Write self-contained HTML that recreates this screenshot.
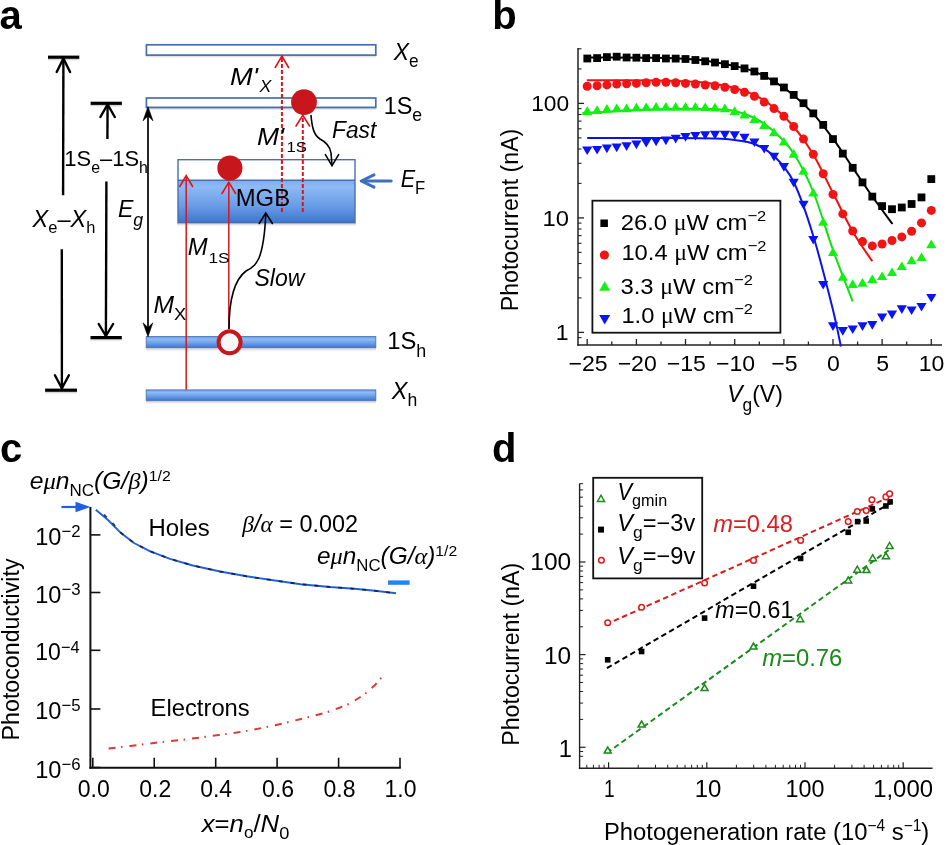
<!DOCTYPE html>
<html><head><meta charset="utf-8"><style>
html,body{margin:0;padding:0;background:#fff;overflow:hidden;}
svg{display:block;filter:blur(0.4px);}
text{font-family:"Liberation Sans",sans-serif;}
</style></head><body>
<svg width="946" height="845" viewBox="0 0 946 845">
<defs>
<linearGradient id="gbar" x1="0" y1="0" x2="0" y2="1">
<stop offset="0" stop-color="#6f9fe6"/><stop offset="0.25" stop-color="#8dbbf5"/><stop offset="0.6" stop-color="#6a9ee8"/><stop offset="1" stop-color="#3f77cf"/></linearGradient>
<linearGradient id="gbig" x1="0" y1="0" x2="0" y2="1">
<stop offset="0" stop-color="#7eaaf0"/><stop offset="0.15" stop-color="#8fbaf4"/><stop offset="0.6" stop-color="#6a9de6"/><stop offset="1" stop-color="#3d76d0"/></linearGradient>
<linearGradient id="shd" x1="0" y1="0" x2="0" y2="1">
<stop offset="0" stop-color="#a0a0a0" stop-opacity="0.7"/><stop offset="1" stop-color="#ffffff" stop-opacity="0"/></linearGradient>
</defs>
<rect width="946" height="845" fill="#fff"/>
<text x="-0.50" y="28.6" font-size="40" font-weight="bold">a</text>
<rect x="146" y="55.5" width="230" height="3" fill="url(#shd)"/>
<rect x="146.4" y="44.8" width="229.4" height="10.3" fill="#fff" stroke="#4670ac" stroke-width="1.7"/>
<rect x="146" y="108.2" width="230" height="3" fill="url(#shd)"/>
<rect x="146.4" y="98" width="229.4" height="9.4" fill="#fff" stroke="#4670ac" stroke-width="1.7"/>
<rect x="177" y="223.2" width="179" height="4" fill="url(#shd)"/>
<rect x="178" y="180" width="177" height="42.6" fill="url(#gbig)"/>
<rect x="178" y="159.7" width="177" height="62.9" fill="none" stroke="#4670ac" stroke-width="1.4"/>
<line x1="178" y1="180.3" x2="355" y2="180.3" stroke="#4670ac" stroke-width="1.4"/>
<rect x="146" y="348.2" width="230" height="4" fill="url(#shd)"/>
<rect x="146.2" y="336.6" width="229.6" height="11" fill="url(#gbar)" stroke="#4a70b4" stroke-width="0.9"/>
<rect x="146" y="401" width="230" height="4" fill="url(#shd)"/>
<rect x="146.2" y="389.9" width="229.6" height="10.5" fill="url(#gbar)" stroke="#4a70b4" stroke-width="0.9"/>
<rect x="48" y="58.800000000000004" width="31.299999999999997" height="3" fill="url(#shd)"/><line x1="48" y1="57.2" x2="79.3" y2="57.2" stroke="#000" stroke-width="3.2"/>
<line x1="63.4" y1="58" x2="63.1" y2="195.3" stroke="#000" stroke-width="2.4"/>
<polyline points="56.699999999999996,72.0 63.4,58.5 70.1,72.0" fill="none" stroke="#000" stroke-width="2.4" stroke-linecap="round"/>
<line x1="61.8" y1="249.3" x2="61.9" y2="389" stroke="#000" stroke-width="2.4"/>
<polyline points="54.9,375.2 61.9,388.2 68.9,375.2" fill="none" stroke="#000" stroke-width="2.4" stroke-linecap="round"/>
<rect x="45.1" y="391.8" width="31.9" height="3" fill="url(#shd)"/><line x1="45.1" y1="390.2" x2="77" y2="390.2" stroke="#000" stroke-width="3.2"/>
<rect x="90.6" y="104.89999999999999" width="31.30000000000001" height="3" fill="url(#shd)"/><line x1="90.6" y1="103.3" x2="121.9" y2="103.3" stroke="#000" stroke-width="3.2"/>
<line x1="107.6" y1="104" x2="107.4" y2="139" stroke="#000" stroke-width="2.4"/>
<polyline points="100.39999999999999,117.0 107.6,104.5 114.8,117.0" fill="none" stroke="#000" stroke-width="2.4" stroke-linecap="round"/>
<line x1="106.4" y1="181.5" x2="105.9" y2="336.5" stroke="#000" stroke-width="2.4"/>
<polyline points="98.7,324 105.9,336 113.10000000000001,324" fill="none" stroke="#000" stroke-width="2.4" stroke-linecap="round"/>
<rect x="90.5" y="339.20000000000005" width="31.299999999999997" height="3" fill="url(#shd)"/><line x1="90.5" y1="337.6" x2="121.8" y2="337.6" stroke="#000" stroke-width="3.2"/>
<line x1="148" y1="110" x2="148" y2="333" stroke="#000" stroke-width="1.7"/>
<polygon points="148,106.8 143,120.8 148,116 153,120.8" fill="#000" stroke="#000" stroke-width="0.6" stroke-linejoin="round"/>
<polygon points="148,336.7 143,322.8 148,327.6 152.8,322.8" fill="#000" stroke="#000" stroke-width="0.6" stroke-linejoin="round"/>
<line x1="186.2" y1="389.8" x2="186.2" y2="176" stroke="#d9161e" stroke-width="1.5"/>
<polyline points="179.79999999999998,186.5 186.2,175.5 192.6,186.5" fill="none" stroke="#d9161e" stroke-width="1.6" stroke-linecap="round"/>
<line x1="228.8" y1="329" x2="228.8" y2="183" stroke="#d9161e" stroke-width="1.5"/>
<polyline points="222.0,193.5 228.8,182.2 235.60000000000002,193.5" fill="none" stroke="#d9161e" stroke-width="1.6" stroke-linecap="round"/>
<line x1="281.9" y1="212" x2="281.9" y2="57" stroke="#d9161e" stroke-width="2" stroke-dasharray="4 2"/>
<polyline points="275.2,67.5 281.9,56 288.59999999999997,67.5" fill="none" stroke="#d9161e" stroke-width="1.6" stroke-linecap="round"/>
<line x1="302.8" y1="212" x2="302.8" y2="116" stroke="#d9161e" stroke-width="2" stroke-dasharray="4 2"/>
<polyline points="296.0,126.0 302.8,115.2 309.6,126.0" fill="none" stroke="#d9161e" stroke-width="1.6" stroke-linecap="round"/>
<circle cx="304" cy="102.1" r="12.9" fill="#c8161d"/>
<circle cx="229.9" cy="168" r="12.6" fill="#c8161d"/>
<circle cx="229.6" cy="342.3" r="11" fill="#f8f8f8" stroke="#c8161d" stroke-width="4"/>
<path d="M311,115 C312,128 314,135 320,139 C326,142 330,146 331,153 L332,165" fill="none" stroke="#000" stroke-width="1.6"/>
<polyline points="325.4,154.70000000000002 332,165.8 338.6,154.70000000000002" fill="none" stroke="#000" stroke-width="1.6" stroke-linecap="round"/>
<path d="M229,329 C229,300 234,280 246,271 C254,267 256,264 259,258 C263,248 265,232 265.8,214" fill="none" stroke="#000" stroke-width="1.6"/>
<polyline points="259.2,223.5 265.8,213 272.40000000000003,223.5" fill="none" stroke="#000" stroke-width="1.6" stroke-linecap="round"/>
<line x1="391.2" y1="181.1" x2="363" y2="181.1" stroke="#3f6fbf" stroke-width="3" stroke-linecap="round"/>
<polyline points="374,174.8 361.2,181 374,187.2" fill="none" stroke="#3f6fbf" stroke-width="3" stroke-linejoin="round" stroke-linecap="round"/>
<text transform="matrix(0.9788,0,0,1,235.74,0)" x="0" y="206.1" font-size="24.4">MGB</text>
<text transform="matrix(0.9383,0,0,1,332.06,0)" x="0" y="138.4" font-size="24.2" font-style="italic">Fast</text>
<text transform="matrix(0.9615,0,0,1,254.44,0)" x="0" y="285.8" font-size="24" font-style="italic">Slow</text>
<text transform="matrix(0.9560,0,0,1,393.70,0)" x="0" y="59.8" font-size="24"><tspan font-style="italic">X</tspan><tspan font-size="18" dy="7.5">e</tspan></text>
<text transform="matrix(0.9784,0,0,1,383.64,0)" x="0" y="113.6" font-size="24">1S<tspan font-size="18" dy="7.7">e</tspan></text>
<text transform="matrix(0.9000,0,0,1,400.70,0)" x="0" y="186.7" font-size="24"><tspan font-style="italic">E</tspan><tspan font-size="18.5" dy="7.5">F</tspan></text>
<text transform="matrix(0.9917,0,0,1,387.22,0)" x="0" y="348.8" font-size="24">1S<tspan font-size="18" dy="8">h</tspan></text>
<text transform="matrix(0.9800,0,0,1,391.80,0)" x="0" y="398.8" font-size="24"><tspan font-style="italic">X</tspan><tspan font-size="18" dy="7.5">h</tspan></text>
<text transform="matrix(0.9938,0,0,1,64.31,0)" x="0" y="165.6" font-size="22.1">1S<tspan font-size="16" dy="7.6">e</tspan><tspan dy="-7.6">–1S</tspan><tspan font-size="16" dy="7.6">h</tspan></text>
<text transform="matrix(0.9703,0,0,1,32.60,0)" x="0" y="226.6" font-size="24.3"><tspan font-style="italic">X</tspan><tspan font-size="17" dy="6.6">e</tspan><tspan dy="-6.6">–</tspan><tspan font-style="italic">X</tspan><tspan font-size="17" dy="6.6">h</tspan></text>
<text transform="matrix(0.9640,0,0,1,117.94,0)" x="0" y="217.1" font-size="24" font-style="italic">E<tspan font-size="18.5" dy="8.5">g</tspan></text>
<text transform="matrix(1.1375,0,0,1,230.06,0)" x="0" y="84.9" font-size="24" font-style="italic">M'</text>
<text transform="matrix(1.0417,0,0,1,259.60,0)" x="0" y="92.5" font-size="17" font-style="italic">X</text>
<text transform="matrix(1.1000,0,0,1,257.00,0)" x="0" y="144.6" font-size="24" font-style="italic">M'</text>
<text transform="matrix(1.0765,0,0,1,286.42,0)" x="0" y="152.3" font-size="15.5">1S</text>
<text transform="matrix(0.9947,0,0,1,187.81,0)" x="0" y="255.5" font-size="24" font-style="italic">M</text>
<text transform="matrix(1.1118,0,0,1,208.39,0)" x="0" y="263.1" font-size="15.5">1S</text>
<text transform="matrix(1.0263,0,0,1,153.47,0)" x="0" y="312.8" font-size="24" font-style="italic">M</text>
<text transform="matrix(1.1111,0,0,1,174.09,0)" x="0" y="320.5" font-size="16.5">X</text>
<text x="492.30" y="28.6" font-size="40" font-weight="bold">b</text>
<line x1="578.0" y1="48" x2="578.0" y2="345.7" stroke="#222" stroke-width="1.5"/>
<line x1="577.3" y1="345.0" x2="942" y2="345.0" stroke="#222" stroke-width="1.5"/>
<line x1="578.0" y1="332.4" x2="584.0" y2="332.4" stroke="#222" stroke-width="1.3"/>
<line x1="578.0" y1="297.9" x2="581.5" y2="297.9" stroke="#222" stroke-width="1.1"/>
<line x1="578.0" y1="277.8" x2="581.5" y2="277.8" stroke="#222" stroke-width="1.1"/>
<line x1="578.0" y1="263.5" x2="581.5" y2="263.5" stroke="#222" stroke-width="1.1"/>
<line x1="578.0" y1="252.4" x2="581.5" y2="252.4" stroke="#222" stroke-width="1.1"/>
<line x1="578.0" y1="243.3" x2="581.5" y2="243.3" stroke="#222" stroke-width="1.1"/>
<line x1="578.0" y1="235.6" x2="581.5" y2="235.6" stroke="#222" stroke-width="1.1"/>
<line x1="578.0" y1="229.0" x2="581.5" y2="229.0" stroke="#222" stroke-width="1.1"/>
<line x1="578.0" y1="223.1" x2="581.5" y2="223.1" stroke="#222" stroke-width="1.1"/>
<line x1="578.0" y1="217.9" x2="584.0" y2="217.9" stroke="#222" stroke-width="1.3"/>
<line x1="578.0" y1="183.4" x2="581.5" y2="183.4" stroke="#222" stroke-width="1.1"/>
<line x1="578.0" y1="163.3" x2="581.5" y2="163.3" stroke="#222" stroke-width="1.1"/>
<line x1="578.0" y1="149.0" x2="581.5" y2="149.0" stroke="#222" stroke-width="1.1"/>
<line x1="578.0" y1="137.9" x2="581.5" y2="137.9" stroke="#222" stroke-width="1.1"/>
<line x1="578.0" y1="128.8" x2="581.5" y2="128.8" stroke="#222" stroke-width="1.1"/>
<line x1="578.0" y1="121.1" x2="581.5" y2="121.1" stroke="#222" stroke-width="1.1"/>
<line x1="578.0" y1="114.5" x2="581.5" y2="114.5" stroke="#222" stroke-width="1.1"/>
<line x1="578.0" y1="108.6" x2="581.5" y2="108.6" stroke="#222" stroke-width="1.1"/>
<line x1="578.0" y1="103.4" x2="584.0" y2="103.4" stroke="#222" stroke-width="1.3"/>
<line x1="578.0" y1="68.9" x2="581.5" y2="68.9" stroke="#222" stroke-width="1.1"/>
<line x1="578.0" y1="48.8" x2="581.5" y2="48.8" stroke="#222" stroke-width="1.1"/>
<line x1="578.0" y1="337.6" x2="581.5" y2="337.6" stroke="#222" stroke-width="1.1"/>
<line x1="587.2" y1="345.0" x2="587.2" y2="339.0" stroke="#222" stroke-width="1.3"/>
<line x1="611.8" y1="345.0" x2="611.8" y2="341.5" stroke="#222" stroke-width="1.3"/>
<line x1="636.4" y1="345.0" x2="636.4" y2="339.0" stroke="#222" stroke-width="1.3"/>
<line x1="661.0" y1="345.0" x2="661.0" y2="341.5" stroke="#222" stroke-width="1.3"/>
<line x1="685.5" y1="345.0" x2="685.5" y2="339.0" stroke="#222" stroke-width="1.3"/>
<line x1="710.1" y1="345.0" x2="710.1" y2="341.5" stroke="#222" stroke-width="1.3"/>
<line x1="734.7" y1="345.0" x2="734.7" y2="339.0" stroke="#222" stroke-width="1.3"/>
<line x1="759.3" y1="345.0" x2="759.3" y2="341.5" stroke="#222" stroke-width="1.3"/>
<line x1="783.9" y1="345.0" x2="783.9" y2="339.0" stroke="#222" stroke-width="1.3"/>
<line x1="808.4" y1="345.0" x2="808.4" y2="341.5" stroke="#222" stroke-width="1.3"/>
<line x1="833.0" y1="345.0" x2="833.0" y2="339.0" stroke="#222" stroke-width="1.3"/>
<line x1="857.6" y1="345.0" x2="857.6" y2="341.5" stroke="#222" stroke-width="1.3"/>
<line x1="882.1" y1="345.0" x2="882.1" y2="339.0" stroke="#222" stroke-width="1.3"/>
<line x1="906.7" y1="345.0" x2="906.7" y2="341.5" stroke="#222" stroke-width="1.3"/>
<line x1="931.3" y1="345.0" x2="931.3" y2="339.0" stroke="#222" stroke-width="1.3"/>
<text transform="matrix(1.0300,0,0,1,568.48,0)" x="0" y="371.1" font-size="22.4">−25</text>
<text transform="matrix(1.0300,0,0,1,617.63,0)" x="0" y="371.1" font-size="22.4">−20</text>
<text transform="matrix(1.0300,0,0,1,666.78,0)" x="0" y="371.1" font-size="22.4">−15</text>
<text transform="matrix(1.0300,0,0,1,715.93,0)" x="0" y="371.1" font-size="22.4">−10</text>
<text transform="matrix(1.0300,0,0,1,771.26,0)" x="0" y="371.1" font-size="22.4">−5</text>
<text transform="matrix(1.0300,0,0,1,827.10,0)" x="0" y="371.1" font-size="22.4">0</text>
<text transform="matrix(1.0300,0,0,1,876.25,0)" x="0" y="371.1" font-size="22.4">5</text>
<text transform="matrix(1.0300,0,0,1,918.71,0)" x="0" y="371.1" font-size="22.4">10</text>
<text transform="matrix(1.0171,0,0,1,531.17,0)" x="0" y="111.2" font-size="22.4">100</text>
<text transform="matrix(1.0636,0,0,1,542.57,0)" x="0" y="225.9" font-size="22.4">10</text>
<text transform="matrix(1.0300,0,0,1,555.74,0)" x="0" y="340.2" font-size="22.4">1</text>
<text transform="translate(517.6,311.2) rotate(-90)" font-size="23" textLength="182.5" lengthAdjust="spacingAndGlyphs">Photocurrent (nA)</text>
<text transform="matrix(0.9600,0,0,1,727.18,0)" x="0" y="402.3" font-size="24"><tspan font-style="italic">V</tspan><tspan font-size="18" dy="8.5">g</tspan><tspan dy="-8.5">(V)</tspan></text>
<path d="M587.2,57.6 C598.7,57.6 638.0,57.5 656.1,57.8 C674.1,58.1 685.5,58.9 695.4,59.6 C705.2,60.3 708.5,61.1 715.0,62.2 C721.6,63.3 728.1,64.4 734.7,66.0 C741.3,67.6 747.8,69.0 754.4,71.6 C760.9,74.2 767.5,77.5 774.0,81.4 C780.6,85.3 787.1,89.8 793.7,95.2 C800.2,100.6 806.8,106.6 813.3,113.8 C819.9,121.0 826.4,129.6 833.0,138.6 C839.6,147.6 846.1,157.9 852.7,167.6 C859.2,177.2 865.7,187.1 872.3,196.5 C879.0,205.9 889.1,219.4 892.5,224.0" fill="none" stroke="#000" stroke-width="2"/>
<path d="M586.8,80.3 C598.3,80.3 638.0,80.2 656.1,80.4 C674.2,80.7 685.5,81.2 695.4,81.8 C705.2,82.4 708.5,83.0 715.0,84.0 C721.6,85.0 728.1,86.2 734.7,88.0 C741.3,89.8 747.8,91.8 754.4,95.0 C760.9,98.2 767.5,102.2 774.0,107.5 C780.6,112.8 787.1,118.7 793.7,126.5 C800.2,134.3 806.8,143.4 813.3,154.5 C819.9,165.6 826.4,180.2 833.0,193.0 C839.6,205.8 846.1,220.1 852.7,231.5 C859.2,242.9 869.0,256.3 872.3,261.3" fill="none" stroke="#f01010" stroke-width="2"/>
<path d="M582.3,113.3 C591.3,112.8 619.2,110.8 636.4,110.0 C653.6,109.2 672.4,108.9 685.5,108.8 C698.7,108.7 706.8,108.8 715.0,109.2 C723.2,109.6 728.1,109.5 734.7,111.0 C741.3,112.5 747.8,114.6 754.4,118.0 C760.9,121.4 767.5,125.6 774.0,131.5 C780.6,137.4 787.1,143.4 793.7,153.5 C800.2,163.6 806.8,175.9 813.3,192.0 C819.9,208.1 826.4,231.8 833.0,250.0 C839.6,268.2 849.4,292.9 852.7,301.5" fill="none" stroke="#10e010" stroke-width="2"/>
<path d="M587.2,138.1 C602.0,138.1 654.4,138.0 675.7,138.1 C697.0,138.2 705.2,138.3 715.0,138.6 C724.9,138.9 728.1,139.1 734.7,140.0 C741.3,140.9 747.8,141.3 754.4,144.0 C760.9,146.7 767.5,149.7 774.0,156.0 C780.6,162.3 787.1,168.7 793.7,182.0 C800.2,195.3 806.8,214.7 813.3,236.0 C819.9,257.3 828.4,291.6 833.0,310.0 C837.6,328.4 839.6,340.4 840.9,346.5" fill="none" stroke="#0a14e6" stroke-width="2"/>
<rect x="583.4" y="54.6" width="7.8" height="7.8" fill="#000"/>
<rect x="593.2" y="54.2" width="7.8" height="7.8" fill="#000"/>
<rect x="603.0" y="53.2" width="7.8" height="7.8" fill="#000"/>
<rect x="612.8" y="52.8" width="7.8" height="7.8" fill="#000"/>
<rect x="622.7" y="53.6" width="7.8" height="7.8" fill="#000"/>
<rect x="632.5" y="53.8" width="7.8" height="7.8" fill="#000"/>
<rect x="642.3" y="54.2" width="7.8" height="7.8" fill="#000"/>
<rect x="652.2" y="54.2" width="7.8" height="7.8" fill="#000"/>
<rect x="662.0" y="54.6" width="7.8" height="7.8" fill="#000"/>
<rect x="671.8" y="54.7" width="7.8" height="7.8" fill="#000"/>
<rect x="681.6" y="55.1" width="7.8" height="7.8" fill="#000"/>
<rect x="691.5" y="56.1" width="7.8" height="7.8" fill="#000"/>
<rect x="701.3" y="57.4" width="7.8" height="7.8" fill="#000"/>
<rect x="711.1" y="58.6" width="7.8" height="7.8" fill="#000"/>
<rect x="721.0" y="60.3" width="7.8" height="7.8" fill="#000"/>
<rect x="730.8" y="62.2" width="7.8" height="7.8" fill="#000"/>
<rect x="740.6" y="64.5" width="7.8" height="7.8" fill="#000"/>
<rect x="750.5" y="67.6" width="7.8" height="7.8" fill="#000"/>
<rect x="760.3" y="72.0" width="7.8" height="7.8" fill="#000"/>
<rect x="770.1" y="77.5" width="7.8" height="7.8" fill="#000"/>
<rect x="780.0" y="83.6" width="7.8" height="7.8" fill="#000"/>
<rect x="789.8" y="91.0" width="7.8" height="7.8" fill="#000"/>
<rect x="799.6" y="99.3" width="7.8" height="7.8" fill="#000"/>
<rect x="809.4" y="109.5" width="7.8" height="7.8" fill="#000"/>
<rect x="819.3" y="121.0" width="7.8" height="7.8" fill="#000"/>
<rect x="829.1" y="135.2" width="7.8" height="7.8" fill="#000"/>
<rect x="838.9" y="149.7" width="7.8" height="7.8" fill="#000"/>
<rect x="848.8" y="163.9" width="7.8" height="7.8" fill="#000"/>
<rect x="858.6" y="178.5" width="7.8" height="7.8" fill="#000"/>
<rect x="868.4" y="192.7" width="7.8" height="7.8" fill="#000"/>
<rect x="878.2" y="202.2" width="7.8" height="7.8" fill="#000"/>
<rect x="888.1" y="205.3" width="7.8" height="7.8" fill="#000"/>
<rect x="897.9" y="203.6" width="7.8" height="7.8" fill="#000"/>
<rect x="907.7" y="200.1" width="7.8" height="7.8" fill="#000"/>
<rect x="917.6" y="193.5" width="7.8" height="7.8" fill="#000"/>
<rect x="927.4" y="175.2" width="7.8" height="7.8" fill="#000"/>
<circle cx="587.2" cy="86.2" r="4.5" fill="#f01414"/>
<circle cx="597.1" cy="85.7" r="4.5" fill="#f01414"/>
<circle cx="606.9" cy="84.9" r="4.5" fill="#f01414"/>
<circle cx="616.7" cy="84.1" r="4.5" fill="#f01414"/>
<circle cx="626.6" cy="83.8" r="4.5" fill="#f01414"/>
<circle cx="636.4" cy="83.4" r="4.5" fill="#f01414"/>
<circle cx="646.2" cy="82.8" r="4.5" fill="#f01414"/>
<circle cx="656.1" cy="82.2" r="4.5" fill="#f01414"/>
<circle cx="665.9" cy="82.2" r="4.5" fill="#f01414"/>
<circle cx="675.7" cy="82.8" r="4.5" fill="#f01414"/>
<circle cx="685.5" cy="83.4" r="4.5" fill="#f01414"/>
<circle cx="695.4" cy="84.1" r="4.5" fill="#f01414"/>
<circle cx="705.2" cy="85.1" r="4.5" fill="#f01414"/>
<circle cx="715.0" cy="85.7" r="4.5" fill="#f01414"/>
<circle cx="724.9" cy="87.2" r="4.5" fill="#f01414"/>
<circle cx="734.7" cy="89.5" r="4.5" fill="#f01414"/>
<circle cx="744.5" cy="92.3" r="4.5" fill="#f01414"/>
<circle cx="754.4" cy="96.2" r="4.5" fill="#f01414"/>
<circle cx="764.2" cy="102.1" r="4.5" fill="#f01414"/>
<circle cx="774.0" cy="108.6" r="4.5" fill="#f01414"/>
<circle cx="783.9" cy="116.2" r="4.5" fill="#f01414"/>
<circle cx="793.7" cy="126.5" r="4.5" fill="#f01414"/>
<circle cx="803.5" cy="139.1" r="4.5" fill="#f01414"/>
<circle cx="813.3" cy="154.3" r="4.5" fill="#f01414"/>
<circle cx="823.2" cy="173.8" r="4.5" fill="#f01414"/>
<circle cx="833.0" cy="194.4" r="4.5" fill="#f01414"/>
<circle cx="842.8" cy="213.9" r="4.5" fill="#f01414"/>
<circle cx="852.7" cy="231.0" r="4.5" fill="#f01414"/>
<circle cx="862.5" cy="241.6" r="4.5" fill="#f01414"/>
<circle cx="872.3" cy="245.9" r="4.5" fill="#f01414"/>
<circle cx="882.1" cy="244.0" r="4.5" fill="#f01414"/>
<circle cx="892.0" cy="240.5" r="4.5" fill="#f01414"/>
<circle cx="901.8" cy="236.9" r="4.5" fill="#f01414"/>
<circle cx="911.6" cy="231.2" r="4.5" fill="#f01414"/>
<circle cx="921.5" cy="222.9" r="4.5" fill="#f01414"/>
<circle cx="931.3" cy="210.4" r="4.5" fill="#f01414"/>
<polygon points="582.1,115.0 592.4,115.0 587.2,106.3" fill="#14f014"/>
<polygon points="592.0,113.9 602.2,113.9 597.1,105.2" fill="#14f014"/>
<polygon points="601.8,112.7 612.0,112.7 606.9,104.0" fill="#14f014"/>
<polygon points="611.6,112.2 621.8,112.2 616.7,103.5" fill="#14f014"/>
<polygon points="621.5,112.2 631.7,112.2 626.6,103.5" fill="#14f014"/>
<polygon points="631.3,111.5 641.5,111.5 636.4,102.8" fill="#14f014"/>
<polygon points="641.1,111.1 651.3,111.1 646.2,102.4" fill="#14f014"/>
<polygon points="651.0,110.8 661.2,110.8 656.1,102.1" fill="#14f014"/>
<polygon points="660.8,110.8 671.0,110.8 665.9,102.1" fill="#14f014"/>
<polygon points="670.6,110.8 680.8,110.8 675.7,102.1" fill="#14f014"/>
<polygon points="680.4,110.8 690.6,110.8 685.5,102.1" fill="#14f014"/>
<polygon points="690.3,110.8 700.5,110.8 695.4,102.1" fill="#14f014"/>
<polygon points="700.1,111.1 710.3,111.1 705.2,102.4" fill="#14f014"/>
<polygon points="709.9,111.5 720.1,111.5 715.0,102.8" fill="#14f014"/>
<polygon points="719.8,112.2 730.0,112.2 724.9,103.5" fill="#14f014"/>
<polygon points="729.6,115.0 739.8,115.0 734.7,106.3" fill="#14f014"/>
<polygon points="739.4,118.6 749.6,118.6 744.5,109.9" fill="#14f014"/>
<polygon points="749.3,123.1 759.5,123.1 754.4,114.4" fill="#14f014"/>
<polygon points="759.1,129.0 769.3,129.0 764.2,120.3" fill="#14f014"/>
<polygon points="768.9,136.3 779.1,136.3 774.0,127.6" fill="#14f014"/>
<polygon points="778.8,145.6 789.0,145.6 783.9,136.9" fill="#14f014"/>
<polygon points="788.6,157.7 798.8,157.7 793.7,149.0" fill="#14f014"/>
<polygon points="798.4,174.8 808.6,174.8 803.5,166.1" fill="#14f014"/>
<polygon points="808.2,196.6 818.4,196.6 813.3,187.9" fill="#14f014"/>
<polygon points="818.1,225.8 828.3,225.8 823.2,217.1" fill="#14f014"/>
<polygon points="827.9,255.9 838.1,255.9 833.0,247.2" fill="#14f014"/>
<polygon points="837.7,280.8 847.9,280.8 842.8,272.1" fill="#14f014"/>
<polygon points="847.6,287.9 857.8,287.9 852.7,279.2" fill="#14f014"/>
<polygon points="857.4,286.7 867.6,286.7 862.5,278.0" fill="#14f014"/>
<polygon points="867.2,283.1 877.4,283.1 872.3,274.4" fill="#14f014"/>
<polygon points="877.0,280.1 887.2,280.1 882.1,271.4" fill="#14f014"/>
<polygon points="886.9,276.1 897.1,276.1 892.0,267.4" fill="#14f014"/>
<polygon points="896.7,270.1 906.9,270.1 901.8,261.4" fill="#14f014"/>
<polygon points="906.5,264.2 916.7,264.2 911.6,255.5" fill="#14f014"/>
<polygon points="916.4,261.1 926.6,261.1 921.5,252.4" fill="#14f014"/>
<polygon points="926.2,248.3 936.4,248.3 931.3,239.6" fill="#14f014"/>
<polygon points="582.1,146.4 592.4,146.4 587.2,155.1" fill="#0a14f0"/>
<polygon points="592.0,145.9 602.2,145.9 597.1,154.6" fill="#0a14f0"/>
<polygon points="601.8,144.5 612.0,144.5 606.9,153.2" fill="#0a14f0"/>
<polygon points="611.6,143.6 621.8,143.6 616.7,152.3" fill="#0a14f0"/>
<polygon points="621.5,142.2 631.7,142.2 626.6,150.9" fill="#0a14f0"/>
<polygon points="631.3,140.6 641.5,140.6 636.4,149.3" fill="#0a14f0"/>
<polygon points="641.1,138.9 651.3,138.9 646.2,147.6" fill="#0a14f0"/>
<polygon points="651.0,137.5 661.2,137.5 656.1,146.2" fill="#0a14f0"/>
<polygon points="660.8,136.6 671.0,136.6 665.9,145.3" fill="#0a14f0"/>
<polygon points="670.6,134.7 680.8,134.7 675.7,143.4" fill="#0a14f0"/>
<polygon points="680.4,133.1 690.6,133.1 685.5,141.8" fill="#0a14f0"/>
<polygon points="690.3,131.9 700.5,131.9 695.4,140.6" fill="#0a14f0"/>
<polygon points="700.1,131.2 710.3,131.2 705.2,139.9" fill="#0a14f0"/>
<polygon points="709.9,130.8 720.1,130.8 715.0,139.5" fill="#0a14f0"/>
<polygon points="719.8,130.8 730.0,130.8 724.9,139.5" fill="#0a14f0"/>
<polygon points="729.6,131.2 739.8,131.2 734.7,139.9" fill="#0a14f0"/>
<polygon points="739.4,133.8 749.6,133.8 744.5,142.5" fill="#0a14f0"/>
<polygon points="749.3,138.4 759.5,138.4 754.4,147.1" fill="#0a14f0"/>
<polygon points="759.1,144.9 769.3,144.9 764.2,153.6" fill="#0a14f0"/>
<polygon points="768.9,152.7 779.1,152.7 774.0,161.4" fill="#0a14f0"/>
<polygon points="778.8,163.1 789.0,163.1 783.9,171.8" fill="#0a14f0"/>
<polygon points="788.6,178.7 798.8,178.7 793.7,187.4" fill="#0a14f0"/>
<polygon points="798.4,200.8 808.6,200.8 803.5,209.5" fill="#0a14f0"/>
<polygon points="808.2,235.9 818.4,235.9 813.3,244.6" fill="#0a14f0"/>
<polygon points="818.1,280.9 828.3,280.9 823.2,289.6" fill="#0a14f0"/>
<polygon points="827.9,322.3 838.1,322.3 833.0,331.0" fill="#0a14f0"/>
<polygon points="837.7,327.1 847.9,327.1 842.8,335.8" fill="#0a14f0"/>
<polygon points="847.6,325.4 857.8,325.4 852.7,334.1" fill="#0a14f0"/>
<polygon points="857.4,322.3 867.6,322.3 862.5,331.0" fill="#0a14f0"/>
<polygon points="867.2,321.1 877.4,321.1 872.3,329.8" fill="#0a14f0"/>
<polygon points="877.0,313.6 887.2,313.6 882.1,322.3" fill="#0a14f0"/>
<polygon points="886.9,310.5 897.1,310.5 892.0,319.2" fill="#0a14f0"/>
<polygon points="896.7,305.3 906.9,305.3 901.8,314.0" fill="#0a14f0"/>
<polygon points="906.5,306.4 916.7,306.4 911.6,315.1" fill="#0a14f0"/>
<polygon points="916.4,302.9 926.6,302.9 921.5,311.6" fill="#0a14f0"/>
<polygon points="926.2,293.9 936.4,293.9 931.3,302.6" fill="#0a14f0"/>
<rect x="592.4" y="200.7" width="188" height="132" fill="#fff" stroke="#111" stroke-width="1.8"/>
<rect x="600.4" y="219.5" width="7.5" height="7.5" fill="#000"/>
<circle cx="604.4" cy="255" r="4.6" fill="#f01414"/>
<polygon points="599.2,290.8 610.2,290.8 604.7,281.2" fill="#14f014"/>
<polygon points="599.2,315.1 610.2,315.1 604.7,324.6" fill="#0a14f0"/>
<text transform="matrix(1.0644,0,0,1,620.74,0)" x="0" y="230.3" font-size="22.4">26.0 <tspan font-family="Liberation Serif">μ</tspan>W cm<tspan font-size="15.5" dy="-9">−2</tspan></text>
<text transform="matrix(1.0612,0,0,1,621.38,0)" x="0" y="260.5" font-size="22.4">10.4 <tspan font-family="Liberation Serif">μ</tspan>W cm<tspan font-size="15.5" dy="-9">−2</tspan></text>
<text transform="matrix(1.0667,0,0,1,620.43,0)" x="0" y="294.1" font-size="22.4">3.3 <tspan font-family="Liberation Serif">μ</tspan>W cm<tspan font-size="15.5" dy="-9">−2</tspan></text>
<text transform="matrix(1.0590,0,0,1,621.38,0)" x="0" y="322.6" font-size="22.4">1.0 <tspan font-family="Liberation Serif">μ</tspan>W cm<tspan font-size="15.5" dy="-9">−2</tspan></text>
<text x="0.00" y="461.7" font-size="40" font-weight="bold">c</text>
<line x1="90.4" y1="507" x2="90.4" y2="768.7" stroke="#111" stroke-width="2"/>
<line x1="89.4" y1="767.7" x2="400.8" y2="767.7" stroke="#111" stroke-width="2"/>
<line x1="90.4" y1="534.9" x2="100.4" y2="534.9" stroke="#111" stroke-width="1.6"/>
<line x1="90.4" y1="592.5" x2="100.4" y2="592.5" stroke="#111" stroke-width="1.6"/>
<line x1="90.4" y1="650.3" x2="100.4" y2="650.3" stroke="#111" stroke-width="1.6"/>
<line x1="90.4" y1="709.0" x2="100.4" y2="709.0" stroke="#111" stroke-width="1.6"/>
<line x1="90.4" y1="767.5" x2="100.4" y2="767.5" stroke="#111" stroke-width="1.6"/>
<line x1="92.8" y1="767.7" x2="92.8" y2="757.7" stroke="#111" stroke-width="1.6"/>
<line x1="154.2" y1="767.7" x2="154.2" y2="757.7" stroke="#111" stroke-width="1.6"/>
<line x1="215.7" y1="767.7" x2="215.7" y2="757.7" stroke="#111" stroke-width="1.6"/>
<line x1="277.1" y1="767.7" x2="277.1" y2="757.7" stroke="#111" stroke-width="1.6"/>
<line x1="338.6" y1="767.7" x2="338.6" y2="757.7" stroke="#111" stroke-width="1.6"/>
<line x1="400.0" y1="767.7" x2="400.0" y2="757.7" stroke="#111" stroke-width="1.6"/>
<text x="77.80" y="797.0" font-size="23">0.0</text>
<text x="139.24" y="797.0" font-size="23">0.2</text>
<text x="200.18" y="797.0" font-size="23">0.4</text>
<text x="262.12" y="797.0" font-size="23">0.6</text>
<text x="323.56" y="797.0" font-size="23">0.8</text>
<text x="384.50" y="797.0" font-size="23">1.0</text>
<text transform="matrix(0.9860,0,0,1,35.23,0)" x="0" y="545.0" font-size="23.9">10<tspan font-size="17" dy="-7.7">−2</tspan></text>
<text transform="matrix(0.9860,0,0,1,35.23,0)" x="0" y="602.6" font-size="23.9">10<tspan font-size="17" dy="-7.7">−3</tspan></text>
<text transform="matrix(0.9636,0,0,1,35.27,0)" x="0" y="660.4" font-size="23.9">10<tspan font-size="17" dy="-7.7">−4</tspan></text>
<text transform="matrix(0.9860,0,0,1,35.23,0)" x="0" y="719.1" font-size="23.9">10<tspan font-size="17" dy="-7.7">−5</tspan></text>
<text transform="matrix(0.9860,0,0,1,35.23,0)" x="0" y="777.6" font-size="23.9">10<tspan font-size="17" dy="-7.7">−6</tspan></text>
<text transform="translate(19.3,740.4) rotate(-90)" font-size="23" textLength="181.9" lengthAdjust="spacingAndGlyphs">Photoconductivity</text>
<text transform="matrix(1.0732,0,0,1,201.67,0)" x="0" y="831.6" font-size="24"><tspan font-style="italic">x</tspan>=<tspan font-style="italic">n</tspan><tspan font-size="16" dy="6.4">o</tspan><tspan dy="-6.4">/</tspan><tspan font-style="italic">N</tspan><tspan font-size="17" dy="7.2">0</tspan></text>
<line x1="61.4" y1="507" x2="78" y2="507" stroke="#1f5fe0" stroke-width="2.2"/>
<polygon points="75.5,501.8 90.5,507 75.5,512.2" fill="#1f5fe0"/>
<path d="M95.8,509.8 L108,520 L121,533.1 L134,543 L149.7,551.1 L170,558.8 L192.8,565.5 L220,571.5 L246.7,576.3 L275,580.5 L300.7,584.2 L330,587 L354.6,588.8 L375,590.8 L396,593.2" fill="none" stroke="#2060e0" stroke-width="1.9" stroke-linejoin="round"/>
<path d="M104,514.5 L108,518.5 L112.5,523 L117,528 L121.5,533.3 L134,543 L149.7,551.1 L170,558.8 L192.8,565.5 L220,571.5 L246.7,576.3 L275,580.5 L300.7,584.2 L330,587 L354.6,588.8 L375,590.8 L396,593.2" fill="none" stroke="#111" stroke-width="1.8" stroke-dasharray="4 8" opacity="0.75"/>
<rect x="388" y="580.4" width="21.6" height="4.4" fill="#1f86f0"/>
<path d="M108.6,748.6 L130,746 L154.3,742.9 L185,739.5 L218.5,735.1 L250,730.5 L279.4,724.3 L305,718 L326.8,712.4 L340,707.5 L350.5,703.3 L365,694 L375,685 L384.3,674.2" fill="none" stroke="#dc3a32" stroke-width="2" stroke-dasharray="7 5.5 1.5 7"/>
<text transform="matrix(1.0017,0,0,1,148.50,0)" x="0" y="535.7" font-size="23.9">Holes</text>
<text transform="matrix(1.0186,0,0,1,242.30,0)" x="0" y="531.6" font-size="23"><tspan font-style="italic" font-family="Liberation Serif">β</tspan><tspan font-style="italic">/</tspan><tspan font-style="italic" font-family="Liberation Serif">α</tspan> = 0.002</text>
<text transform="matrix(1.0042,0,0,1,150.59,0)" x="0" y="715.8" font-size="23.7">Electrons</text>
<text transform="matrix(1.0279,0,0,1,29.67,0)" x="0" y="489.3" font-size="24"><tspan font-style="italic">e</tspan><tspan font-style="italic" font-family="Liberation Serif">μ</tspan><tspan font-style="italic">n</tspan><tspan font-size="16.5" dy="7">NC</tspan><tspan dy="-7" font-style="italic">(G/</tspan><tspan font-style="italic" font-family="Liberation Serif">β</tspan><tspan font-style="italic">)</tspan><tspan font-size="15.5" dy="-8.5">1/2</tspan></text>
<text transform="matrix(1.0161,0,0,1,316.98,0)" x="0" y="564.4" font-size="24"><tspan font-style="italic">e</tspan><tspan font-style="italic" font-family="Liberation Serif">μ</tspan><tspan font-style="italic">n</tspan><tspan font-size="16.5" dy="7">NC</tspan><tspan dy="-7" font-style="italic">(G/</tspan><tspan font-style="italic" font-family="Liberation Serif">α</tspan><tspan font-style="italic">)</tspan><tspan font-size="15.5" dy="-8.5">1/2</tspan></text>
<text x="492.00" y="461.7" font-size="40" font-weight="bold">d</text>
<line x1="579.6" y1="483.5" x2="579.6" y2="769.0" stroke="#222" stroke-width="1.4"/>
<line x1="578.9" y1="768.3" x2="932.5" y2="768.3" stroke="#222" stroke-width="1.4"/>
<line x1="579.6" y1="747.3" x2="585.6" y2="747.3" stroke="#222" stroke-width="1.2"/>
<line x1="579.6" y1="719.4" x2="583.1" y2="719.4" stroke="#222" stroke-width="1"/>
<line x1="579.6" y1="703.1" x2="583.1" y2="703.1" stroke="#222" stroke-width="1"/>
<line x1="579.6" y1="691.5" x2="583.1" y2="691.5" stroke="#222" stroke-width="1"/>
<line x1="579.6" y1="682.5" x2="583.1" y2="682.5" stroke="#222" stroke-width="1"/>
<line x1="579.6" y1="675.2" x2="583.1" y2="675.2" stroke="#222" stroke-width="1"/>
<line x1="579.6" y1="669.0" x2="583.1" y2="669.0" stroke="#222" stroke-width="1"/>
<line x1="579.6" y1="663.6" x2="583.1" y2="663.6" stroke="#222" stroke-width="1"/>
<line x1="579.6" y1="658.9" x2="583.1" y2="658.9" stroke="#222" stroke-width="1"/>
<line x1="579.6" y1="654.6" x2="585.6" y2="654.6" stroke="#222" stroke-width="1.2"/>
<line x1="579.6" y1="626.8" x2="583.1" y2="626.8" stroke="#222" stroke-width="1"/>
<line x1="579.6" y1="610.4" x2="583.1" y2="610.4" stroke="#222" stroke-width="1"/>
<line x1="579.6" y1="598.9" x2="583.1" y2="598.9" stroke="#222" stroke-width="1"/>
<line x1="579.6" y1="589.9" x2="583.1" y2="589.9" stroke="#222" stroke-width="1"/>
<line x1="579.6" y1="582.6" x2="583.1" y2="582.6" stroke="#222" stroke-width="1"/>
<line x1="579.6" y1="576.4" x2="583.1" y2="576.4" stroke="#222" stroke-width="1"/>
<line x1="579.6" y1="571.0" x2="583.1" y2="571.0" stroke="#222" stroke-width="1"/>
<line x1="579.6" y1="566.2" x2="583.1" y2="566.2" stroke="#222" stroke-width="1"/>
<line x1="579.6" y1="562.0" x2="585.6" y2="562.0" stroke="#222" stroke-width="1.2"/>
<line x1="579.6" y1="534.1" x2="583.1" y2="534.1" stroke="#222" stroke-width="1"/>
<line x1="579.6" y1="517.8" x2="583.1" y2="517.8" stroke="#222" stroke-width="1"/>
<line x1="579.6" y1="506.2" x2="583.1" y2="506.2" stroke="#222" stroke-width="1"/>
<line x1="579.6" y1="497.2" x2="583.1" y2="497.2" stroke="#222" stroke-width="1"/>
<line x1="579.6" y1="489.9" x2="583.1" y2="489.9" stroke="#222" stroke-width="1"/>
<line x1="579.6" y1="483.7" x2="583.1" y2="483.7" stroke="#222" stroke-width="1"/>
<line x1="579.6" y1="751.5" x2="583.1" y2="751.5" stroke="#222" stroke-width="1"/>
<line x1="579.6" y1="756.3" x2="583.1" y2="756.3" stroke="#222" stroke-width="1"/>
<line x1="608.6" y1="768.3" x2="608.6" y2="762.3" stroke="#222" stroke-width="1.2"/>
<line x1="706.8" y1="768.3" x2="706.8" y2="762.3" stroke="#222" stroke-width="1.2"/>
<line x1="805.0" y1="768.3" x2="805.0" y2="762.3" stroke="#222" stroke-width="1.2"/>
<line x1="903.2" y1="768.3" x2="903.2" y2="762.3" stroke="#222" stroke-width="1.2"/>
<line x1="586.8" y1="768.3" x2="586.8" y2="764.8" stroke="#222" stroke-width="1"/>
<line x1="593.4" y1="768.3" x2="593.4" y2="764.8" stroke="#222" stroke-width="1"/>
<line x1="599.1" y1="768.3" x2="599.1" y2="764.8" stroke="#222" stroke-width="1"/>
<line x1="604.1" y1="768.3" x2="604.1" y2="764.8" stroke="#222" stroke-width="1"/>
<line x1="638.2" y1="768.3" x2="638.2" y2="764.8" stroke="#222" stroke-width="1"/>
<line x1="655.5" y1="768.3" x2="655.5" y2="764.8" stroke="#222" stroke-width="1"/>
<line x1="667.7" y1="768.3" x2="667.7" y2="764.8" stroke="#222" stroke-width="1"/>
<line x1="677.2" y1="768.3" x2="677.2" y2="764.8" stroke="#222" stroke-width="1"/>
<line x1="685.0" y1="768.3" x2="685.0" y2="764.8" stroke="#222" stroke-width="1"/>
<line x1="691.6" y1="768.3" x2="691.6" y2="764.8" stroke="#222" stroke-width="1"/>
<line x1="697.3" y1="768.3" x2="697.3" y2="764.8" stroke="#222" stroke-width="1"/>
<line x1="702.3" y1="768.3" x2="702.3" y2="764.8" stroke="#222" stroke-width="1"/>
<line x1="736.4" y1="768.3" x2="736.4" y2="764.8" stroke="#222" stroke-width="1"/>
<line x1="753.7" y1="768.3" x2="753.7" y2="764.8" stroke="#222" stroke-width="1"/>
<line x1="765.9" y1="768.3" x2="765.9" y2="764.8" stroke="#222" stroke-width="1"/>
<line x1="775.4" y1="768.3" x2="775.4" y2="764.8" stroke="#222" stroke-width="1"/>
<line x1="783.2" y1="768.3" x2="783.2" y2="764.8" stroke="#222" stroke-width="1"/>
<line x1="789.8" y1="768.3" x2="789.8" y2="764.8" stroke="#222" stroke-width="1"/>
<line x1="795.5" y1="768.3" x2="795.5" y2="764.8" stroke="#222" stroke-width="1"/>
<line x1="800.5" y1="768.3" x2="800.5" y2="764.8" stroke="#222" stroke-width="1"/>
<line x1="834.6" y1="768.3" x2="834.6" y2="764.8" stroke="#222" stroke-width="1"/>
<line x1="851.9" y1="768.3" x2="851.9" y2="764.8" stroke="#222" stroke-width="1"/>
<line x1="864.1" y1="768.3" x2="864.1" y2="764.8" stroke="#222" stroke-width="1"/>
<line x1="873.6" y1="768.3" x2="873.6" y2="764.8" stroke="#222" stroke-width="1"/>
<line x1="881.4" y1="768.3" x2="881.4" y2="764.8" stroke="#222" stroke-width="1"/>
<line x1="888.0" y1="768.3" x2="888.0" y2="764.8" stroke="#222" stroke-width="1"/>
<line x1="893.7" y1="768.3" x2="893.7" y2="764.8" stroke="#222" stroke-width="1"/>
<line x1="898.7" y1="768.3" x2="898.7" y2="764.8" stroke="#222" stroke-width="1"/>
<text transform="matrix(0.8200,0,0,1,603.96,0)" x="0" y="797" font-size="23.3">1</text>
<text transform="matrix(1.0304,0,0,1,694.74,0)" x="0" y="797" font-size="23.3">10</text>
<text x="785.50" y="797" font-size="23.3">100</text>
<text transform="matrix(1.0273,0,0,1,873.15,0)" x="0" y="797" font-size="23.3">1,000</text>
<text transform="matrix(1.0351,0,0,1,530.33,0)" x="0" y="570.3" font-size="23.7">100</text>
<text transform="matrix(1.0292,0,0,1,543.94,0)" x="0" y="664.0" font-size="23.7">10</text>
<text x="558.70" y="756.5" font-size="23.7">1</text>
<text transform="translate(518.6,745.8) rotate(-90)" font-size="23" textLength="183" lengthAdjust="spacingAndGlyphs">Photocurrent (nA)</text>
<text transform="matrix(0.9685,0,0,1,603.96,0)" x="0" y="839.6" font-size="24.6">Photogeneration rate (10<tspan font-size="16" dy="-9">−4</tspan><tspan dy="9"> s</tspan><tspan font-size="16" dy="-9">−1</tspan><tspan dy="9">)</tspan></text>
<line x1="605.6" y1="624.6" x2="886" y2="498.7" stroke="#e01818" stroke-width="2" stroke-dasharray="5.5 3.5"/>
<line x1="606.9" y1="668.1" x2="891.1" y2="502.8" stroke="#000" stroke-width="2" stroke-dasharray="5.5 3.5"/>
<line x1="606.9" y1="753" x2="888.5" y2="550.2" stroke="#1a8a1a" stroke-width="2" stroke-dasharray="5.5 3.5"/>
<polygon points="604.2,753.1 611.2,753.1 607.7,747.1" fill="#fff" stroke="#1a8a1a" stroke-width="1.5"/>
<polygon points="638.1,727.1 645.1,727.1 641.6,721.1" fill="#fff" stroke="#1a8a1a" stroke-width="1.5"/>
<polygon points="701.1,690.6 708.1,690.6 704.6,684.6" fill="#fff" stroke="#1a8a1a" stroke-width="1.5"/>
<polygon points="750.0,649.0 757.0,649.0 753.5,643.0" fill="#fff" stroke="#1a8a1a" stroke-width="1.5"/>
<polygon points="796.7,621.7 803.7,621.7 800.2,615.7" fill="#fff" stroke="#1a8a1a" stroke-width="1.5"/>
<polygon points="844.7,582.9 851.7,582.9 848.2,576.9" fill="#fff" stroke="#1a8a1a" stroke-width="1.5"/>
<polygon points="853.8,572.2 860.8,572.2 857.3,566.2" fill="#fff" stroke="#1a8a1a" stroke-width="1.5"/>
<polygon points="862.9,572.5 869.9,572.5 866.4,566.5" fill="#fff" stroke="#1a8a1a" stroke-width="1.5"/>
<polygon points="869.2,560.7 876.2,560.7 872.7,554.7" fill="#fff" stroke="#1a8a1a" stroke-width="1.5"/>
<polygon points="882.4,558.8 889.4,558.8 885.9,552.8" fill="#fff" stroke="#1a8a1a" stroke-width="1.5"/>
<polygon points="886.1,548.4 893.1,548.4 889.6,542.4" fill="#fff" stroke="#1a8a1a" stroke-width="1.5"/>
<rect x="604.9" y="657.0" width="5.6" height="5.6" fill="#000"/>
<rect x="638.8" y="648.7" width="5.6" height="5.6" fill="#000"/>
<rect x="701.8" y="615.3" width="5.6" height="5.6" fill="#000"/>
<rect x="750.7" y="583.4" width="5.6" height="5.6" fill="#000"/>
<rect x="797.8" y="555.6" width="5.6" height="5.6" fill="#000"/>
<rect x="845.4" y="529.5" width="5.6" height="5.6" fill="#000"/>
<rect x="854.8" y="518.8" width="5.6" height="5.6" fill="#000"/>
<rect x="863.4" y="518.2" width="5.6" height="5.6" fill="#000"/>
<rect x="869.5" y="506.1" width="5.6" height="5.6" fill="#000"/>
<rect x="883.1" y="503.2" width="5.6" height="5.6" fill="#000"/>
<rect x="887.3" y="499.1" width="5.6" height="5.6" fill="#000"/>
<circle cx="607.7" cy="622.8" r="2.8" fill="#fff" stroke="#e01818" stroke-width="1.5"/>
<circle cx="641.6" cy="607.2" r="2.8" fill="#fff" stroke="#e01818" stroke-width="1.5"/>
<circle cx="704.6" cy="583" r="2.8" fill="#fff" stroke="#e01818" stroke-width="1.5"/>
<circle cx="753.5" cy="560.4" r="2.8" fill="#fff" stroke="#e01818" stroke-width="1.5"/>
<circle cx="800.6" cy="540.4" r="2.8" fill="#fff" stroke="#e01818" stroke-width="1.5"/>
<circle cx="848.2" cy="521.6" r="2.8" fill="#fff" stroke="#e01818" stroke-width="1.5"/>
<circle cx="857.3" cy="511.5" r="2.8" fill="#fff" stroke="#e01818" stroke-width="1.5"/>
<circle cx="866.2" cy="510.6" r="2.8" fill="#fff" stroke="#e01818" stroke-width="1.5"/>
<circle cx="871.9" cy="499.8" r="2.8" fill="#fff" stroke="#e01818" stroke-width="1.5"/>
<circle cx="885.9" cy="496.9" r="2.8" fill="#fff" stroke="#e01818" stroke-width="1.5"/>
<circle cx="889.6" cy="493.7" r="2.8" fill="#fff" stroke="#e01818" stroke-width="1.5"/>
<rect x="593.2" y="477.8" width="109" height="100.6" fill="#fff" stroke="#111" stroke-width="1.8"/>
<polygon points="597.5,501.4 604.5,501.4 601,495.2" fill="#fff" stroke="#1a8a1a" stroke-width="1.5"/>
<rect x="598" y="526.6" width="6" height="6" fill="#000"/>
<circle cx="601.4" cy="560.2" r="2.8" fill="#fff" stroke="#e01818" stroke-width="1.5"/>
<text transform="matrix(0.9531,0,0,1,617.49,0)" x="0" y="499.7" font-size="23"><tspan font-style="italic">V</tspan><tspan font-size="17" dy="6.4">gmin</tspan></text>
<text transform="matrix(1.0257,0,0,1,617.35,0)" x="0" y="531.5" font-size="23"><tspan font-style="italic">V</tspan><tspan font-size="17" dy="7">g</tspan><tspan dy="-7">=−3v</tspan></text>
<text transform="matrix(1.0257,0,0,1,617.35,0)" x="0" y="564.4" font-size="23"><tspan font-style="italic">V</tspan><tspan font-size="17" dy="7">g</tspan><tspan dy="-7">=−9v</tspan></text>
<text transform="matrix(1.0316,0,0,1,713.20,0)" x="0" y="532.4" font-size="23" fill="#d82020"><tspan font-style="italic">m</tspan>=0.48</text>
<text transform="matrix(1.0092,0,0,1,715.30,0)" x="0" y="618.2" font-size="23" fill="#000"><tspan font-style="italic">m</tspan>=0.61</text>
<text transform="matrix(1.0368,0,0,1,762.20,0)" x="0" y="665.7" font-size="23" fill="#1a8a1a"><tspan font-style="italic">m</tspan>=0.76</text>
</svg>
</body></html>
